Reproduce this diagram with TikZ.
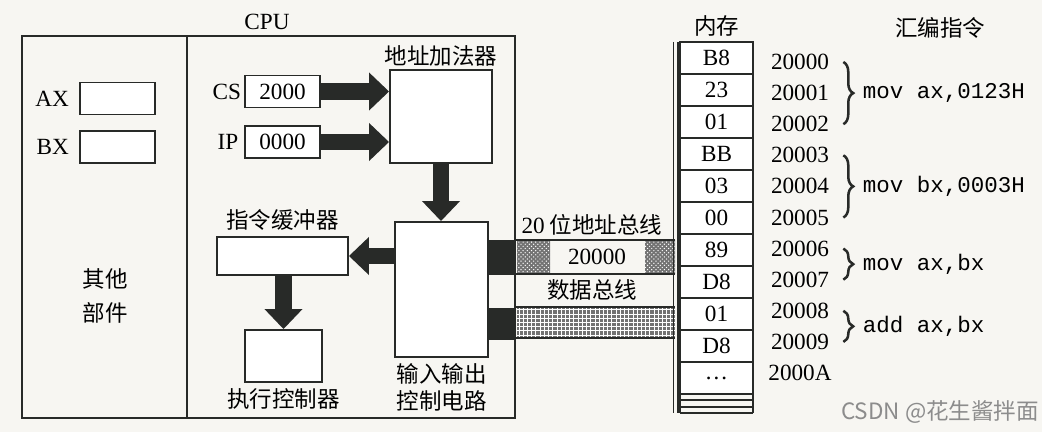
\documentclass[tikz,border=0pt]{standalone}
\usepackage{fontspec}
\setmainfont{Liberation Serif}
\setmonofont{Liberation Mono}
\newfontfamily\cjk{Noto Sans CJK SC}
\usetikzlibrary{positioning, calc, arrows.meta, patterns, decorations.pathreplacing}

\definecolor{paper}{RGB}{247,246,242}
\definecolor{ink}{RGB}{40,42,40}

\tikzset{
	txt/.style={font=\fontsize{16.5}{19}\selectfont, inner sep=1pt},
	zh/.style={font=\cjk\fontsize{16}{19}\selectfont, inner sep=1pt},
	code/.style={font=\ttfamily\fontsize{16}{19}\selectfont, inner sep=1pt},
	reg/.style={txt, draw=ink, line width=1.3pt, fill=white, minimum width=1.875cm, minimum height=0.8cm},
	unit/.style={draw=ink, line width=1.3pt, fill=white},
	fat/.style={draw=ink, line width=0.42cm, -{Triangle[length=0.5cm, width=0.92cm]}},
	cell/.style={txt, draw=ink, line width=1pt, fill=white, minimum width=1.825cm, minimum height=0.8cm},
	brace/.style={decorate, decoration={brace, amplitude=7pt}, draw=ink, line width=1.8pt},
}

\begin{document}
\begin{tikzpicture}[x=0.025cm, y=-0.025cm]
	\useasboundingbox (0,0) rectangle (1042,432);
	\fill[paper] (0,0) rectangle (1042,432);
	
	% CPU
	\draw[draw=ink, line width=1.5pt] (22,36) rectangle (515,418);
	\draw[draw=ink, line width=1pt] (187,36) -- (187,418);
	\node [txt] (CPUlabel) at (267,22) {CPU};
	
	\node [reg] (AXbox) at (117.5,98.5) {};
	\node [reg] (BXbox) at (117.5,147) {};
	\node [txt, left=6pt of AXbox] (AXlabel) {AX};
	\node [txt, left=6pt of BXbox] (BXlabel) {BX};
	\node [zh, align=center] (Otherlabel) at (105,296) {其他\\[5pt]部件};
	
	\node [reg] (CSbox) at (282.5,91.5) {2000};
	\node [reg] (IPbox) at (282.5,142) {0000};
	\node [txt, left=1pt of CSbox] (CSlabel) {CS};
	\node [txt, left=3pt of IPbox] (IPlabel) {IP};
	
	\node [unit, minimum width=2.55cm, minimum height=2.325cm] (Adder) at (441,116.5) {};
	\node [zh, above=1pt of Adder] (Adderlabel) {地址加法器};
	\node [unit, minimum width=2.325cm, minimum height=3.375cm] (IO) at (441.5,289.5) {};
	\node [zh, align=center, below=3pt of IO] (IOlabel) {输入输出\\控制电路};
	\node [unit, minimum width=3.275cm, minimum height=0.95cm] (Buffer) at (282.5,256) {};
	\node [zh, above=3pt of Buffer] (Bufferlabel) {指令缓冲器};
	\node [unit, minimum width=1.925cm, minimum height=1.3cm] (Exec) at (283.5,356) {};
	\node [zh, below=3pt of Exec] (Execlabel) {执行控制器};
	
	\draw[fat] (CSbox.east) -- (CSbox.east -| Adder.west);
	\draw[fat] (IPbox.east) -- (IPbox.east -| Adder.west);
	\draw[fat] (Adder.south) -- (Adder.south |- IO.north);
	\draw[fat] (IO.west |- Buffer.east) -- (Buffer.east);
	\draw[fat] (Buffer.south -| Exec.north) -- (Exec.north);
	
	% buses
	\fill[ink] (488,240) rectangle (515,275);
	\fill[ink] (488,308) rectangle (515,340);
	\fill[black!55] (517,240) rectangle (550,274) (645,240) rectangle (675,274);
	\fill[pattern=crosshatch dots, pattern color=white] (517,240) rectangle (550,274) (645,240) rectangle (675,274);
	\draw[draw=ink, line width=0.8pt] (515,240) -- (675,240) (515,274) -- (675,274);
	\node [txt] (Addrvalue) at (597,257) {20000};
	\node [zh] (Addrbus) at (592,225) {{\rmfamily\fontsize{16.5}{19}\selectfont 20} 位地址总线};
	\node [zh] (Databus) at (592,290) {数据总线};
	\fill[black!55] (517,307) rectangle (675,338);
	\fill[pattern=grid, pattern color=white] (517,307) rectangle (675,338);
	\draw[draw=ink, line width=0.8pt] (515,307) -- (675,307) (515,338) -- (675,338);
	
	% memory
	\foreach \val [count=\i] in {B8,23,01,BB,03,00,89,D8,01,D8,\dots}
		\node [cell] (m\i) at (716.5,{42+32*(\i-0.5)}) {\val};
	\draw[draw=ink, line width=1pt] (680,400) -- (753,400) (680,407) -- (753,407) (680,413) -- (753,413) (753,394) -- (753,413);
	\draw[draw=ink, line width=0.6pt] (673,42) -- (673,413);
	\draw[draw=ink, line width=3pt] (679,42) -- (679,413);
	\node [zh, above=2pt of m1] (Memlabel) {内存};
	
	\foreach \adr [count=\i] in {20000,20001,20002,20003,20004,20005,20006,20007,20008,20009,2000A}
		\node [txt] (a\i) at (800,{62+31.1*(\i-1)}) {\adr};
	
	% instructions
	\node [zh] (Asmlabel) at (940,28) {汇编指令};
	\draw[brace] ([xshift=9pt]a1.east) -- ([xshift=9pt]a3.east) node [code, midway, right=12pt] (I1) {mov ax,0123H};
	\draw[brace] ([xshift=9pt]a4.east) -- ([xshift=9pt]a6.east) node [code, midway, right=12pt] (I2) {mov bx,0003H};
	\draw[brace] ([xshift=9pt]a7.east) -- ([xshift=9pt]a8.east) node [code, midway, right=12pt] (I3) {mov ax,bx};
	\draw[brace] ([xshift=9pt]a9.east) -- ([xshift=9pt]a10.east) node [code, midway, right=12pt] (I4) {add ax,bx};
	
	\node [zh, text=black!45] (Mark) at (940,412) {CSDN @花生酱拌面};
\end{tikzpicture}
\end{document}
